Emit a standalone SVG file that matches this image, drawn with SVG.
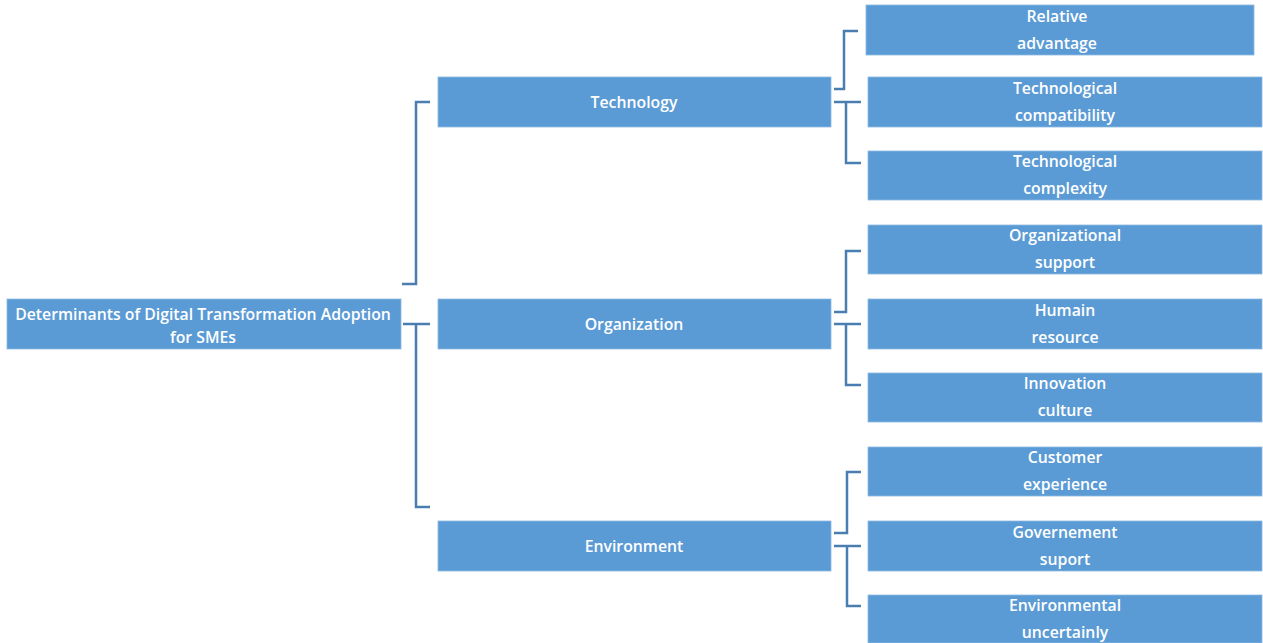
<svg xmlns="http://www.w3.org/2000/svg" width="1263" height="643" viewBox="0 0 1263 643">
<style>
.box{fill:#5B9BD5;stroke:#8DB8E2;stroke-width:0.8}
.t{fill:#fff;font-family:"Open Sans","Liberation Sans",sans-serif;font-size:15.8px;font-weight:600;text-anchor:middle}
.c{fill:none;stroke:#4A7EB0;stroke-width:2.5}
</style>
<rect width="1263" height="643" fill="#fff"/>
<g id="connectors">
<polyline class="c" points="402,284 416,284 416,102 430,102"/>
<polyline class="c" points="403,324 430,324"/>
<polyline class="c" points="416,324 416,507 430,507"/>
<polyline class="c" points="834,89 844,89 844,31 858,31"/>
<polyline class="c" points="834,102 861,102"/>
<polyline class="c" points="846,102 846,163 861,163"/>
<polyline class="c" points="834,312 846,312 846,251 861,251"/>
<polyline class="c" points="834,324 861,324"/>
<polyline class="c" points="846,324 846,385 861,385"/>
<polyline class="c" points="834,533 847,533 847,472 861,472"/>
<polyline class="c" points="834,546 861,546"/>
<polyline class="c" points="847,546 847,606 861,606"/>
</g>
<g id="root"><rect class="box" x="7" y="299" width="394" height="50"/><text class="t" x="203" y="320">Determinants of Digital Transformation Adoption</text><text class="t" x="203" y="343">for SMEs</text></g>
<g id="technology"><rect class="box" x="438" y="77" width="393" height="50"/><text class="t" x="634" y="108">Technology</text></g>
<g id="organization"><rect class="box" x="438" y="299" width="393" height="50"/><text class="t" x="634" y="330">Organization</text></g>
<g id="environment"><rect class="box" x="438" y="521" width="393" height="50"/><text class="t" x="634" y="552">Environment</text></g>
<g id="relative-advantage"><rect class="box" x="866" y="5" width="388" height="50"/><text class="t" x="1057" y="22">Relative</text><text class="t" x="1057" y="49">advantage</text></g>
<g id="tech-compat"><rect class="box" x="868" y="77" width="394" height="50"/><text class="t" x="1065" y="94">Technological</text><text class="t" x="1065" y="121">compatibility</text></g>
<g id="tech-complex"><rect class="box" x="868" y="151" width="394" height="49"/><text class="t" x="1065" y="167">Technological</text><text class="t" x="1065" y="194">complexity</text></g>
<g id="org-support"><rect class="box" x="868" y="225" width="394" height="49"/><text class="t" x="1065" y="241">Organizational</text><text class="t" x="1065" y="268">support</text></g>
<g id="human-resource"><rect class="box" x="868" y="299" width="394" height="50"/><text class="t" x="1065" y="316">Humain</text><text class="t" x="1065" y="343">resource</text></g>
<g id="innovation-culture"><rect class="box" x="868" y="373" width="394" height="49"/><text class="t" x="1065" y="389">Innovation</text><text class="t" x="1065" y="416">culture</text></g>
<g id="customer-experience"><rect class="box" x="868" y="447" width="394" height="49"/><text class="t" x="1065" y="463">Customer</text><text class="t" x="1065" y="490">experience</text></g>
<g id="government-support"><rect class="box" x="868" y="521" width="394" height="50"/><text class="t" x="1065" y="538">Governement</text><text class="t" x="1065" y="565">suport</text></g>
<g id="env-uncertainty"><rect class="box" x="868" y="595" width="394" height="48"/><text class="t" x="1065" y="611">Environmental</text><text class="t" x="1065" y="638">uncertainly</text></g>
</svg>
